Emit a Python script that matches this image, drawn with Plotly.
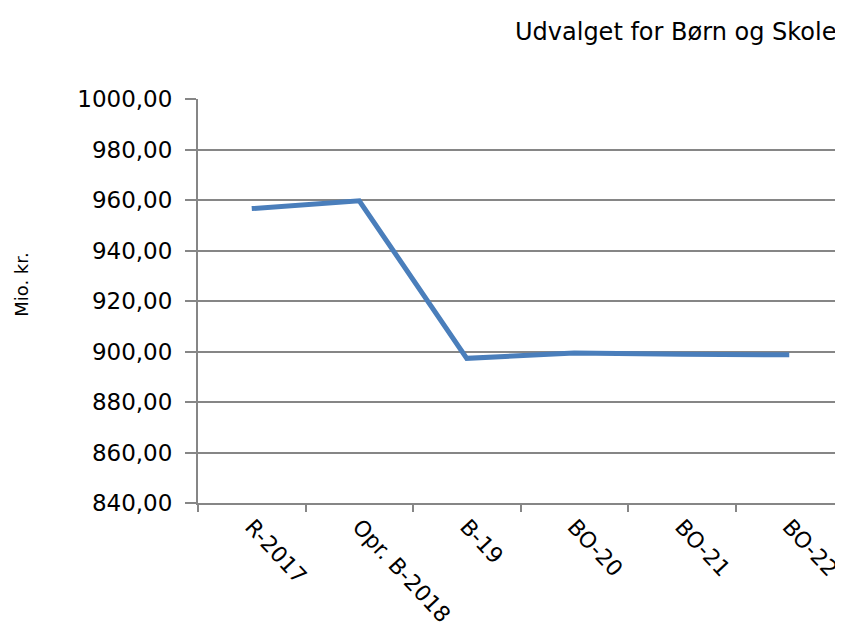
import plotly.graph_objects as go

# Data
kategorier = ['R-2017', 'Opr. B-2018', 'B-19', 'BO-20', 'BO-21', 'BO-22']
vaerdier = [956.6, 959.7, 897.3, 899.4, 898.9, 898.7]

grå = '#868686'

fig = go.Figure()
fig.add_trace(go.Scatter(x=kategorier, y=vaerdier, mode='lines',
                         line=dict(color='#4A7EBB', width=5)))

# siden har 8px margin, så figuren gøres 8px mindre
fig.update_layout(
    width=835, height=623,
    margin=dict(l=190, r=0, t=91, b=128),
    plot_bgcolor='white', paper_bgcolor='white',
    font=dict(family='DejaVu Sans', size=20, color='black'),
    separators=',.',
    showlegend=False,
)
fig.add_annotation(text='Udvalget for Børn og Skole', xref='paper', yref='paper',
                   x=1, y=1, xanchor='right', yanchor='middle',
                   xshift=-5, yshift=67, showarrow=False, font=dict(size=24))
fig.add_annotation(text='Mio. kr.', xref='paper', yref='paper', x=0, y=0.54,
                   xanchor='center', xshift=-176, textangle=-90, showarrow=False,
                   font=dict(size=18))

fig.update_xaxes(type='category', tickangle=47, tickson='boundaries',
                 ticks='outside', ticklen=7, tickwidth=2, tickcolor=grå,
                 tickfont=dict(size=22),
                 showline=True, linecolor=grå, linewidth=2,
                 showgrid=False, range=[-0.5, 5.5])
fig.update_yaxes(range=[840, 1000], dtick=20, tickformat='.2f',
                 ticks='outside', ticklen=11, tickwidth=2, tickcolor=grå,
                 ticklabelstandoff=8, tickfont=dict(size=23),
                 showline=True, linecolor=grå, linewidth=2,
                 gridcolor=grå, gridwidth=2, zeroline=False)

fig.write_html("out.html")
